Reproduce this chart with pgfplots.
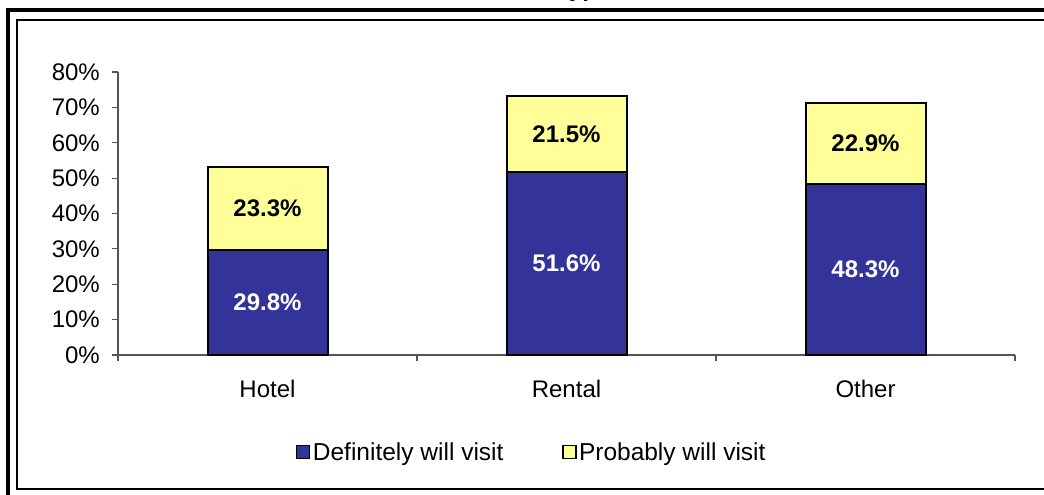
\documentclass[border=0pt]{standalone}
\usepackage{pgfplots}
\pgfplotsset{compat=1.18}
\usepackage{fontspec}
\setmainfont{Liberation Sans}
\definecolor{barblue}{HTML}{333399}
\definecolor{baryellow}{HTML}{FFFF99}
\definecolor{axgray}{HTML}{555555}
\newcommand{\cf}{\fontsize{24bp}{28bp}\selectfont}
\newcommand{\lf}{\fontsize{24.5bp}{28bp}\selectfont}
\begin{document}
\begin{tikzpicture}[x=1bp,y=1bp,font=\cf]
\useasboundingbox (0,0) rectangle (1044,495);
% frames
\draw[line width=4bp] (8,-5) -- (8,485) -- (1060,485);
\draw[line width=2bp] (1060,475) -- (17,475) -- (17,6) -- (1060,6);
% cut-off title
\node[anchor=base west, inner sep=0pt, font=\cf\bfseries] at (556,498) {Type};
\begin{axis}[
  at={(118bp,140bp)}, anchor=south west,
  scale only axis, width=897bp, height=283bp,
  ybar stacked, bar width=120bp,
  xmin=0, xmax=3, ymin=0, ymax=80,
  axis x line*=bottom, axis y line*=left,
  axis line style={axgray, line width=1.2bp},
  tick style={axgray, line width=1.2bp},
  tick align=outside,
  major tick length=6bp,
  xtick={0,1,2,3}, xticklabels={},
  extra x ticks={0.5,1.5,2.5},
  extra x tick labels={Hotel,Rental,Other},
  extra x tick style={major tick length=0pt,
    xticklabel style={anchor=base, yshift=-43bp, inner sep=0pt}},
  ytick={0,10,...,80},
  yticklabels={0\%,10\%,20\%,30\%,40\%,50\%,60\%,70\%,80\%},
  yticklabel style={anchor=east, inner sep=0pt, xshift=-12bp, font=\cf},
  xticklabel style={font=\cf},
  legend style={draw=none, fill=none, font=\lf, legend columns=2,
    at={(0.4615,-0.3428)}, anchor=center, inner sep=0pt,
    /tikz/every even column/.append style={column sep=56bp},
    nodes={inner sep=2.5bp}},
  legend image code/.code={\draw[#1, line width=1.5bp, draw=black] (0bp,-6.5bp) rectangle (13bp,6.5bp);},
  visualization depends on={rawy \as \rawy},
  nodes near coords={\pgfmathprintnumber[fixed,fixed zerofill,precision=1,assume math mode=true]{\rawy}\%},
  every node near coord/.append style={anchor=center, font=\cf\bfseries},
  every axis plot/.append style={line width=2bp},
  clip=false,
]
\addplot[fill=barblue, draw=black, line width=2bp,
  every node near coord/.append style={text=white}]
  coordinates {(0.5,29.8) (1.5,51.6) (2.5,48.3)};
\addplot[fill=baryellow, draw=black, line width=2bp,
  every node near coord/.append style={text=black}]
  coordinates {(0.5,23.3) (1.5,21.5) (2.5,22.9)};
\legend{Definitely will visit,Probably will visit}
\end{axis}
\end{tikzpicture}
\end{document}
